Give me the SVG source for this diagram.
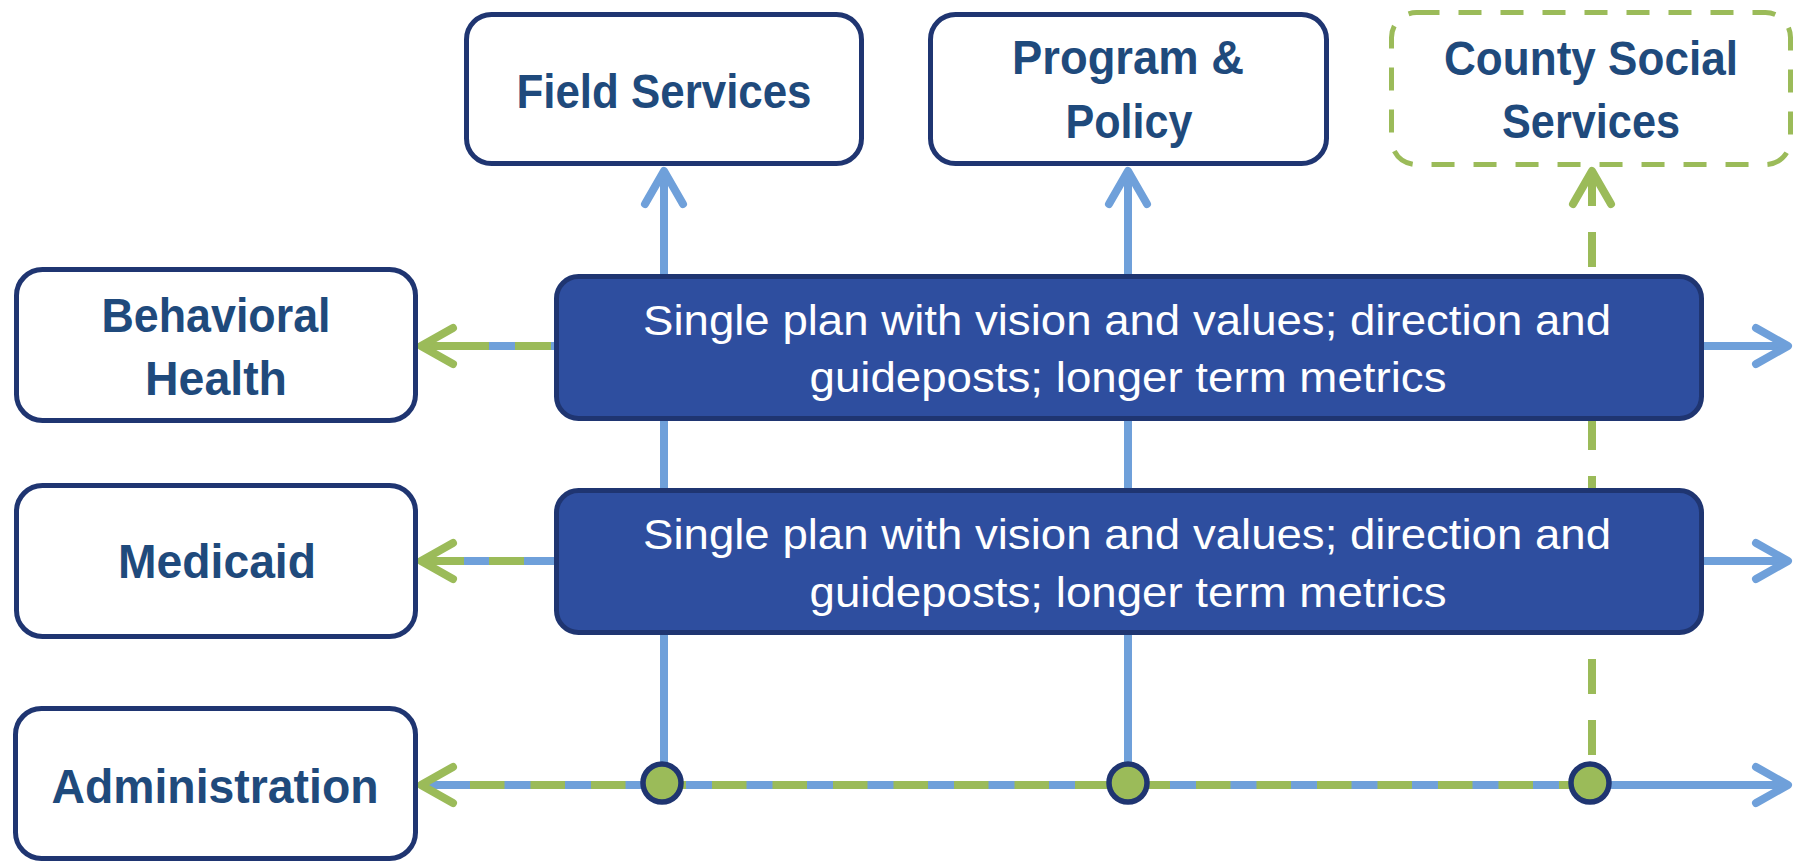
<svg xmlns="http://www.w3.org/2000/svg" width="1800" height="861" viewBox="0 0 1800 861">
<style>
.box{fill:#ffffff;stroke:#1F3571;stroke-width:5}
.dbox{fill:#ffffff;stroke:#9BBB59;stroke-width:5;stroke-dasharray:23 19}
.plan{fill:#2E4E9F;stroke:#1F3571;stroke-width:5}
.lbl{font-family:"Liberation Sans",Arial,sans-serif;font-weight:bold;font-size:49px;fill:#1F4A7C;text-anchor:middle}
.ptxt{font-family:"Liberation Sans",Arial,sans-serif;font-size:42px;fill:#ffffff;text-anchor:middle}
.blue{stroke:#6FA0DA;stroke-width:8;fill:none}
.green{stroke:#9BBB59;stroke-width:8;fill:none}
.head{stroke-width:8;fill:none;stroke-linecap:round;stroke-linejoin:round}
.dot{fill:#9BBB59;stroke:#1F3571;stroke-width:5.5}
</style>
<g id="connectors">
<line class="blue" x1="664" y1="785" x2="664" y2="172"/>
<line class="blue" x1="1128" y1="785" x2="1128" y2="172"/>
<path class="green" d="M1592,785 V172" stroke-dasharray="35 26" stroke-dashoffset="31"/>
<polyline class="head" stroke="#6FA0DA" points="645,204 664,171 683,204"/>
<polyline class="head" stroke="#6FA0DA" points="1109,204 1128,171 1147,204"/>
<polyline class="head" stroke="#9BBB59" points="1573,204 1592,171 1611,204"/>
<line class="blue" x1="420" y1="346" x2="556" y2="346"/>
<line class="green" x1="420" y1="346" x2="489" y2="346"/>
<line class="green" x1="515" y1="346" x2="551" y2="346"/>
<polyline class="head" stroke="#9BBB59" points="453,328 421,346 453,364"/>
<line class="blue" x1="1700" y1="346" x2="1788" y2="346"/>
<polyline class="head" stroke="#6FA0DA" points="1756,328 1788,346 1756,364"/>
<line class="blue" x1="420" y1="561" x2="556" y2="561"/>
<line class="green" x1="420" y1="561" x2="464" y2="561"/>
<line class="green" x1="489" y1="561" x2="524" y2="561"/>
<polyline class="head" stroke="#9BBB59" points="453,543 421,561 453,579"/>
<line class="blue" x1="1700" y1="561" x2="1788" y2="561"/>
<polyline class="head" stroke="#6FA0DA" points="1756,543 1788,561 1756,579"/>
<line class="blue" x1="420" y1="785" x2="1788" y2="785"/>
<path class="green" d="M470,785 H1592" stroke-dasharray="34.5 26"/>
<polyline class="head" stroke="#9BBB59" points="453,767 421,785 453,803"/>
<polyline class="head" stroke="#6FA0DA" points="1756,767 1788,785 1756,803"/>
<circle class="dot" cx="662" cy="783" r="19"/>
<circle class="dot" cx="1128" cy="783" r="19"/>
<circle class="dot" cx="1590" cy="783" r="19"/>
</g>
<g id="field-services">
<rect class="box" x="466.5" y="14.5" width="395" height="149" rx="25"/>
<text class="lbl" x="664" y="108" textLength="295" lengthAdjust="spacingAndGlyphs">Field Services</text>
</g>
<g id="program-policy">
<rect class="box" x="930.5" y="14.5" width="396" height="149" rx="25"/>
<text class="lbl" x="1128" y="74" textLength="232" lengthAdjust="spacingAndGlyphs">Program &amp;</text>
<text class="lbl" x="1129" y="138" textLength="127" lengthAdjust="spacingAndGlyphs">Policy</text>
</g>
<g id="county-social-services">
<rect class="dbox" x="1391.5" y="12.5" width="399" height="152" rx="25"/>
<text class="lbl" x="1591" y="75" textLength="294" lengthAdjust="spacingAndGlyphs">County Social</text>
<text class="lbl" x="1591" y="138" textLength="178" lengthAdjust="spacingAndGlyphs">Services</text>
</g>
<g id="behavioral-health">
<rect class="box" x="16.5" y="269.5" width="399" height="151" rx="26"/>
<text class="lbl" x="216" y="332" textLength="229" lengthAdjust="spacingAndGlyphs">Behavioral</text>
<text class="lbl" x="216" y="395" textLength="142" lengthAdjust="spacingAndGlyphs">Health</text>
</g>
<g id="medicaid">
<rect class="box" x="16.5" y="485.5" width="399" height="151" rx="26"/>
<text class="lbl" x="217" y="578" textLength="198" lengthAdjust="spacingAndGlyphs">Medicaid</text>
</g>
<g id="administration">
<rect class="box" x="15.5" y="708.5" width="400" height="150" rx="26"/>
<text class="lbl" x="215" y="803" textLength="327" lengthAdjust="spacingAndGlyphs">Administration</text>
</g>
<g id="plan-1">
<rect class="plan" x="556.5" y="276.5" width="1145" height="142" rx="22"/>
<text class="ptxt" x="1127" y="335" textLength="968" lengthAdjust="spacingAndGlyphs">Single plan with vision and values; direction and</text>
<text class="ptxt" x="1128" y="392" textLength="637" lengthAdjust="spacingAndGlyphs">guideposts; longer term metrics</text>
</g>
<g id="plan-2">
<rect class="plan" x="556.5" y="490.5" width="1145" height="142" rx="22"/>
<text class="ptxt" x="1127" y="549" textLength="968" lengthAdjust="spacingAndGlyphs">Single plan with vision and values; direction and</text>
<text class="ptxt" x="1128" y="607" textLength="637" lengthAdjust="spacingAndGlyphs">guideposts; longer term metrics</text>
</g>
</svg>
